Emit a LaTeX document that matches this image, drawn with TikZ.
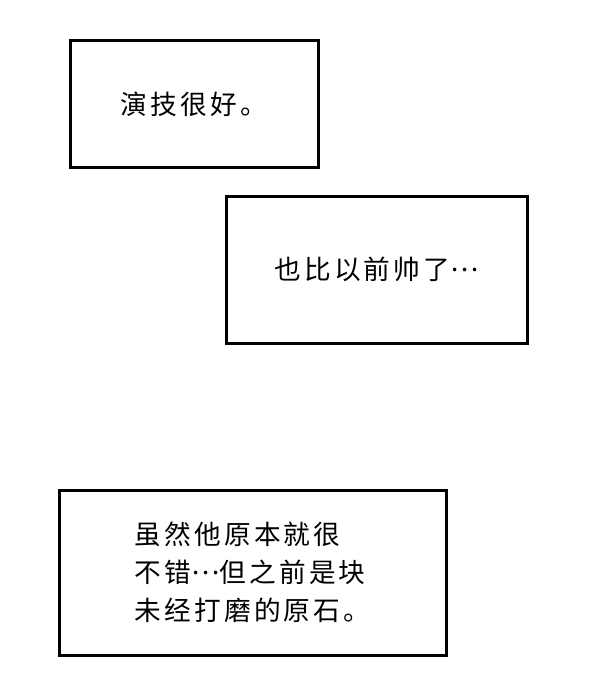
\documentclass[tikz,border=0pt]{standalone}
\usepackage{fontspec}
\newfontfamily\cjk[LetterSpace=12]{Noto Sans CJK SC}
\newcommand{\middots}{\raisebox{0.3em}{…}}
\usepackage{tikz}
\usetikzlibrary{positioning}

\begin{document}
\begin{tikzpicture}
		[x=0.75pt, y=-0.75pt,
		 panel/.style = {draw, shape=rectangle, line width=2.25pt, align=left,
				font=\cjk\fontsize{20pt}{28.5pt}\selectfont},
		]
	\useasboundingbox (0,0) rectangle (600,692);

	\node [panel, minimum width=186pt, minimum height=94.5pt]     (acting)   at (194,104)     {演技很好。};
	\node [panel, minimum width=225.75pt, minimum height=110.25pt] (handsome) at (376.5,269.5) {也比以前帅了\middots};
	\node [panel, minimum width=290.25pt, minimum height=123.75pt] (stone)    at (252.5,572.5) {虽然他原本就很\\ 不错\middots 但之前是块\\ 未经打磨的原石。};

\end{tikzpicture}
\end{document}
